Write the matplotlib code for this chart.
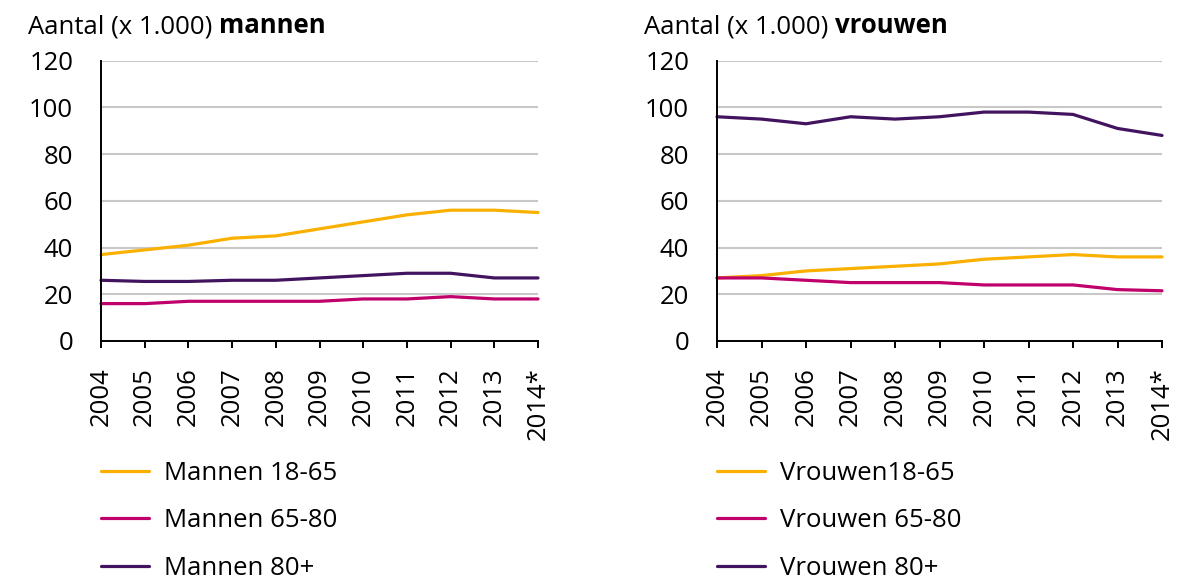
import numpy as np
import matplotlib.pyplot as plt

plt.rcParams['font.family'] = ['Open Sans', 'DejaVu Sans']

years = ['2004', '2005', '2006', '2007', '2008', '2009', '2010', '2011', '2012', '2013', '2014*']

# Aantal x 1.000
mannen_18_65 = [37, 39, 41, 44, 45, 48, 51, 54, 56, 56, 55]
mannen_65_80 = [16, 16, 17, 17, 17, 17, 18, 18, 19, 18, 18]
mannen_80 = [26, 25.5, 25.5, 26, 26, 27, 28, 29, 29, 27, 27]

vrouwen_18_65 = [27, 28, 30, 31, 32, 33, 35, 36, 37, 36, 36]
vrouwen_65_80 = [27, 27, 26, 25, 25, 25, 24, 24, 24, 22, 21.5]
vrouwen_80 = [96, 95, 93, 96, 95, 96, 98, 98, 97, 91, 88]

labels_m = ['Mannen 18-65', 'Mannen 65-80', 'Mannen 80+']
labels_v = ['Vrouwen18-65', 'Vrouwen 65-80', 'Vrouwen 80+']

colors = ['#f9b000', '#c0006b', '#42145f']

W, H = 1191, 583
fig = plt.figure(figsize=(W / 100, H / 100), dpi=100)
fs = 18.5


def panel(left, right, series, labels, who):
    ax = fig.add_axes([left / W, 1 - 341 / H, (right - left) / W, (341 - 60.7) / H])
    x = np.arange(len(years))
    for s, lab, c in zip(series, labels, colors):
        ax.plot(x, s, color=c, lw=2.3, label=lab, solid_capstyle='round', clip_on=False)
    ax.set_xlim(0, len(years) - 1)
    ax.set_ylim(0, 120)
    ax.set_yticks(np.arange(0, 121, 20))
    ax.set_xticks(x)
    ax.set_xticklabels(years, rotation=90, va='top')
    ax.grid(axis='y', color='#c8c8c8', lw=1.5)
    ax.set_axisbelow(True)
    for sp in ['top', 'right']:
        ax.spines[sp].set_visible(False)
    for sp in ['left', 'bottom']:
        ax.spines[sp].set_linewidth(1.4)
    ax.tick_params(axis='y', length=0, pad=20, labelsize=fs)
    ax.tick_params(axis='x', length=5, width=1.4, pad=14, labelsize=fs)
    ax.legend(loc='upper left', bbox_to_anchor=(0, -0.427), frameon=False,
              fontsize=fs, handlelength=1.85, handletextpad=0.6,
              labelspacing=0.88, borderpad=0, borderaxespad=0)
    t = fig.text((left - 73) / W, 1 - 33 / H, 'Aantal (x 1.000) ', fontsize=fs,
                 ha='left', va='baseline')
    ax.annotate(who, xy=(1, 0), xycoords=t, va='bottom', ha='left',
                fontsize=fs, fontweight='bold')
    return ax


panel(101, 538, [mannen_18_65, mannen_65_80, mannen_80], labels_m, 'mannen')
panel(717, 1162, [vrouwen_18_65, vrouwen_65_80, vrouwen_80], labels_v, 'vrouwen')

fig.savefig('out.png', dpi=100)
